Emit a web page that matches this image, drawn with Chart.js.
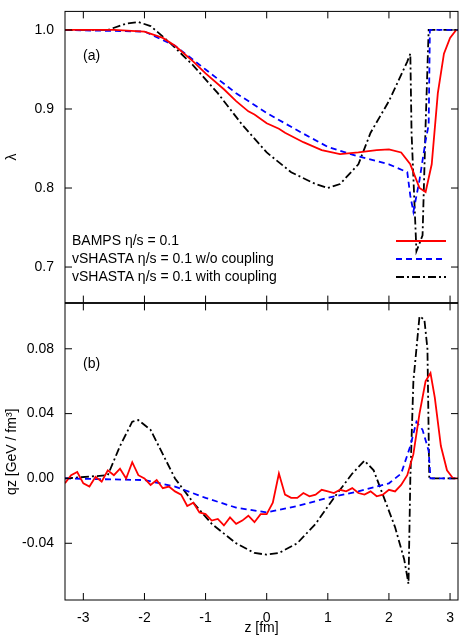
<!DOCTYPE html>
<html><head><meta charset="utf-8">
<script src="https://cdn.jsdelivr.net/npm/chart.js@4"></script>
<style>body{margin:0;background:#fff;overflow:hidden}canvas{position:absolute;left:0}</style>
</head><body>
<canvas id="c1" width="469" height="314" style="top:0"></canvas>
<canvas id="c2" width="469" height="345" style="top:292px"></canvas>
<script>
const xTicks=[-3,-2,-1,0,1,2,3];
const lamTicks=[0.7,0.8,0.9,1.0];
const qTicks=[-0.04,0,0.04,0.08];
const labels=['BAMPS η/s = 0.1','vSHASTA η/s = 0.1 w/o coupling','vSHASTA η/s = 0.1 with coupling'];
const lamRed=[[-3.3,1.0],[-2.5,1.0],[-2.0,0.998],[-1.7,0.99],[-1.5,0.98],[-1.2,0.96],[-1.0,0.945],[-0.7,0.925],[-0.5,0.91],[-0.3,0.897],[-0.2,0.893],[0,0.882],[0.2,0.875],[0.3,0.870],[0.6,0.858],[0.9,0.848],[1.2,0.843],[1.5,0.845],[1.8,0.848],[2.0,0.849],[2.2,0.845],[2.35,0.83],[2.5,0.80],[2.6,0.795],[2.7,0.83],[2.8,0.92],[2.9,0.97],[3.0,0.99],[3.1,1.0]];
const lamBlue=[[-3.3,1.0],[-2.0,0.998],[-1.5,0.98],[-1.0,0.95],[-0.5,0.92],[0,0.895],[0.5,0.873],[1.0,0.852],[1.5,0.84],[2.0,0.83],[2.3,0.82],[2.35,0.79],[2.4,0.77],[2.5,0.81],[2.6,0.86],[2.65,0.88],[2.67,1.0],[3.13,1.0]];
const lamBlack=[[-3.3,1.0],[-2.6,1.0],[-2.3,1.008],[-2.1,1.01],[-1.9,1.005],[-1.6,0.985],[-1.2,0.955],[-0.8,0.92],[-0.4,0.88],[0,0.845],[0.4,0.82],[0.8,0.805],[1.0,0.80],[1.2,0.805],[1.5,0.83],[1.7,0.87],[2.0,0.91],[2.3,0.96],[2.35,0.97],[2.37,0.87],[2.45,0.72],[2.55,0.74],[2.6,0.88],[2.65,1.0],[3.13,1.0]];
const qRed=[[-3.3,-0.003],[-3.2,0.002],[-3.1,0.004],[-3.0,-0.003],[-2.9,-0.005],[-2.8,0.001],[-2.7,-0.002],[-2.6,0.005],[-2.5,0.002],[-2.4,0.006],[-2.3,0.0],[-2.2,0.01],[-2.1,0.002],[-2.0,0.0],[-1.9,-0.004],[-1.8,-0.001],[-1.7,-0.006],[-1.6,-0.005],[-1.5,-0.008],[-1.4,-0.01],[-1.3,-0.017],[-1.2,-0.015],[-1.1,-0.021],[-1.0,-0.022],[-0.9,-0.026],[-0.8,-0.025],[-0.7,-0.029],[-0.6,-0.024],[-0.5,-0.028],[-0.4,-0.026],[-0.3,-0.023],[-0.2,-0.027],[-0.1,-0.022],[0,-0.022],[0.1,-0.015],[0.2,0.003],[0.3,-0.01],[0.4,-0.012],[0.5,-0.012],[0.6,-0.009],[0.7,-0.011],[0.8,-0.01],[0.9,-0.007],[1.0,-0.008],[1.1,-0.009],[1.2,-0.007],[1.3,-0.008],[1.4,-0.006],[1.5,-0.009],[1.6,-0.01],[1.7,-0.008],[1.8,-0.011],[1.9,-0.01],[2.0,-0.007],[2.1,-0.008],[2.2,-0.004],[2.3,0.002],[2.4,0.015],[2.5,0.04],[2.6,0.06],[2.68,0.065],[2.75,0.05],[2.85,0.02],[2.95,0.005],[3.05,0.0],[3.13,0.0]];
const qBlue=[[-3.3,0],[-2.0,-0.001],[-1.5,-0.005],[-1.0,-0.012],[-0.5,-0.018],[0,-0.021],[0.5,-0.017],[1.0,-0.012],[1.5,-0.008],[2.0,-0.003],[2.2,0.003],[2.35,0.02],[2.45,0.035],[2.55,0.03],[2.65,0.017],[2.68,0.0],[3.13,0]];
const qBlack=[[-3.3,0],[-2.6,0.002],[-2.4,0.02],[-2.2,0.035],[-2.1,0.036],[-1.9,0.03],[-1.7,0.015],[-1.5,0.0],[-1.2,-0.015],[-0.9,-0.028],[-0.5,-0.04],[-0.2,-0.046],[0,-0.047],[0.2,-0.046],[0.5,-0.04],[0.8,-0.028],[1.1,-0.012],[1.4,0.003],[1.6,0.011],[1.75,0.005],[1.9,-0.01],[2.1,-0.03],[2.25,-0.05],[2.32,-0.065],[2.35,0.0],[2.4,0.06],[2.5,0.1],[2.58,0.098],[2.63,0.08],[2.66,0.0],[3.13,0]];

const FONT='"Liberation Sans", Arial, sans-serif';
const pts=a=>a.map(p=>({x:p[0],y:p[1]}));
const styles=[{c:'#ff0000',d:[]},{c:'#0000ff',d:[6,4]},{c:'#000000',d:[8,3,2,3]}];
function ds(arrs){return arrs.map((a,i)=>({data:pts(a),borderColor:styles[i].c,borderDash:styles[i].d,borderWidth:1.8,pointRadius:0,tension:0,label:labels[i]}));}
const tickPlugin={id:'tk',afterDraw(ch,args,o){const {ctx,chartArea:a,scales:{x,y}}=ch;ctx.save();ctx.strokeStyle='#000';ctx.lineWidth=1;ctx.setLineDash([]);
ctx.beginPath();
xTicks.forEach(v=>{const p=x.getPixelForValue(v);ctx.moveTo(p,a.bottom);ctx.lineTo(p,a.bottom-7);ctx.moveTo(p,a.top);ctx.lineTo(p,a.top+7);});
o.yt.forEach(v=>{const p=y.getPixelForValue(v);ctx.moveTo(a.left,p);ctx.lineTo(a.left+7,p);ctx.moveTo(a.right,p);ctx.lineTo(a.right-7,p);});
ctx.stroke();ctx.strokeRect(a.left,a.top,a.right-a.left,a.bottom-a.top);
ctx.fillStyle='#000';ctx.font='14px '+FONT;ctx.textBaseline='middle';ctx.fillText(o.tag,a.left+18,a.top+o.tagY);
if(o.legend){ctx.font='14px '+FONT;labels.forEach((l,i)=>{const yy=241+i*18;ctx.textAlign='left';ctx.fillText(l,a.left+7,yy);ctx.beginPath();ctx.strokeStyle=styles[i].c;ctx.lineWidth=1.8;ctx.setLineDash(styles[i].d);ctx.moveTo(a.right-62,yy);ctx.lineTo(a.right-12,yy);ctx.stroke();});}
ctx.restore();}};
function mk(id,data,ymin,ymax,yt,title,showX,opt){
return new Chart(document.getElementById(id),{type:'line',data:{datasets:ds(data)},plugins:[tickPlugin],
options:{responsive:false,animation:false,layout:{padding:opt.pad},
plugins:{legend:{display:false},tooltip:{enabled:false},tk:opt.tk},
scales:{x:{type:'linear',min:-3.3,max:3.13,grid:{display:false},border:{display:false},
afterBuildTicks:s=>{s.ticks=xTicks.map(v=>({value:v}));},
ticks:{display:showX,color:'#000',font:{size:14,family:FONT},padding:2},
title:{display:showX,text:'z [fm]',color:'#000',font:{size:14,family:FONT},padding:{top:0,bottom:0}},
afterFit:s=>{s.height=showX?37:0;}},
y:{min:ymin,max:ymax,grid:{display:false},border:{display:false},
afterBuildTicks:s=>{s.ticks=yt.map(v=>({value:v}));},
ticks:{color:'#000',font:{size:14,family:FONT},callback:v=>opt.fmt(v)},
title:{display:true,text:title,color:'#000',font:{size:14,family:FONT}},
afterFit:s=>{s.width=65;}}}}});}
mk('c1',[lamRed,lamBlue,lamBlack],0.655,1.0235,lamTicks,'λ',false,{pad:{top:5,right:11,bottom:0},fmt:v=>v.toFixed(1),tk:{yt:lamTicks,tag:'(a)',tagY:45,legend:true}});
mk('c2',[qRed,qBlue,qBlack],-0.075,0.108,qTicks,'qz [GeV / fm³]',true,{pad:{top:0,right:11,bottom:0},fmt:v=>v.toFixed(2),tk:{yt:qTicks,tag:'(b)',tagY:61,legend:false}});
</script></body></html>
